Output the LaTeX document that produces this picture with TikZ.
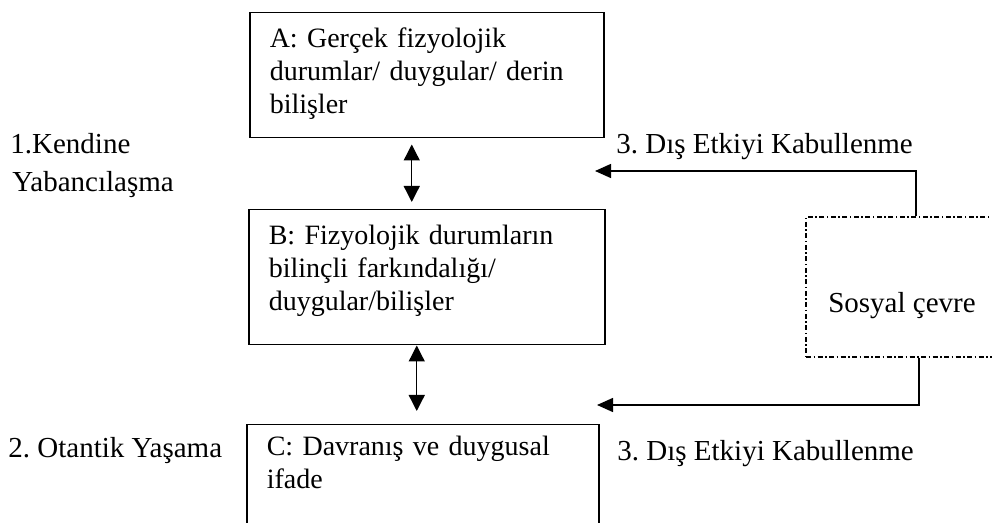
\documentclass[tikz,border=0pt]{standalone}
\usepackage{fontspec}
\setmainfont{Liberation Serif}
\usetikzlibrary{arrows.meta}
\frenchspacing

\tikzset{
  box/.style={draw, line width=0.75pt, anchor=north west, inner xsep=10pt,
    inner ysep=0pt, align=left, font=\fontsize{14}{16.5}\selectfont},
  envbox/.style={draw, line width=0.6pt,
    dash pattern=on 2.5pt off 1.25pt on 0.75pt off 1.25pt,
    inner sep=0pt, minimum width=96pt, font=\fontsize{14.5}{17}\selectfont},
  lbl/.style={anchor=base west, inner sep=0pt, font=\fontsize{14.5}{17}\selectfont},
  biarrow/.style={{Triangle[length=8pt,width=8pt]}-{Triangle[length=8pt,width=8pt]},
    line width=0.65pt},
  inarrow/.style={-{Triangle[length=8pt,width=7pt]}, line width=0.7pt}
}

\begin{document}
\begin{tikzpicture}[x=0.5pt,y=-0.5pt]
  \clip (0,0) rectangle (992,523);

  \node[box, text width=157pt, text height=17.5pt, text depth=45pt] (a) at (249,12)
    {A: Gerçek fizyolojik\\durumlar/ duygular/ derin\\bilişler};
  \node[box, text width=158pt, text height=17.5pt, text depth=50pt] (b) at (248,209)
    {B: Fizyolojik durumların\\bilinçli farkındalığı/\\duygular/bilişler};
  \node[box, text width=156pt, text height=15.5pt, text depth=60pt] (c) at (246,424)
    {C: Davranış ve duygusal\\ifade};
  \node[envbox, text height=48pt, text depth=22pt, anchor=base] (s) at (902,313) {Sosyal çevre};

  \node[lbl] (ken) at (10,154) {1.Kendine};
  \node[lbl] (yab) at (12,192) {Yabancılaşma};
  \node[lbl] (ota) at (8,458) {2. Otantik Yaşama};
  \node[lbl] (dis1) at (616,154) {3. Dış Etkiyi Kabullenme};
  \node[lbl] (dis2) at (617,461) {3. Dış Etkiyi Kabullenme};

  \coordinate (inb) at (595,171);
  \coordinate (inc) at (597,405);

  \draw[biarrow, shorten <=3pt, shorten >=3.5pt]
    ([xshift=-7.5pt]a.south) -- ([xshift=-7.5pt]a.south |- b.north);
  \draw[biarrow, shorten >=6.5pt]
    ([xshift=-5pt]b.south) -- ([xshift=-5pt]b.south |- c.north);
  \draw[inarrow] ([xshift=7pt]s.north) |- (inb);
  \draw[inarrow] ([xshift=8.5pt]s.south) |- (inc);

\end{tikzpicture}
\end{document}
